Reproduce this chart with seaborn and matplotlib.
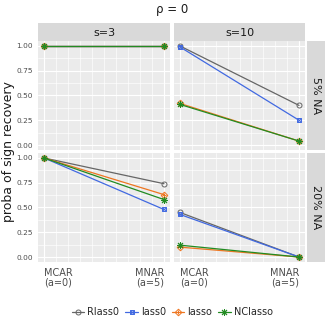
import matplotlib
matplotlib.use("Agg")
import matplotlib.pyplot as plt
from matplotlib.lines import Line2D
import numpy as np
import pandas as pd
import seaborn as sns

# data
methods = ["Rlass0", "lass0", "lasso", "NClasso"]
a_values = [0, 5]
s_levels = ["s=3", "s=10"]
na_levels = ["5% NA", "20% NA"]

# values at (a=0, a=5) per method, per panel
s3_na5 = {"Rlass0": [1.0, 1.0], "lass0": [1.0, 1.0], "lasso": [1.0, 1.0], "NClasso": [1.0, 1.0]}
s10_na5 = {"Rlass0": [1.0, 0.40], "lass0": [0.99, 0.25], "lasso": [0.42, 0.04], "NClasso": [0.41, 0.04]}
s3_na20 = {"Rlass0": [1.0, 0.74], "lass0": [1.0, 0.48], "lasso": [1.0, 0.63], "NClasso": [1.0, 0.58]}
s10_na20 = {"Rlass0": [0.45, 0.0], "lass0": [0.43, 0.0], "lasso": [0.10, 0.0], "NClasso": [0.12, 0.0]}

panels = {
    ("5% NA", "s=3"): s3_na5,
    ("5% NA", "s=10"): s10_na5,
    ("20% NA", "s=3"): s3_na20,
    ("20% NA", "s=10"): s10_na20,
}

rows = []
for (na, s), vals in panels.items():
    for m in methods:
        for a, v in zip(a_values, vals[m]):
            rows.append({"na": na, "s": s, "method": m, "a": a, "prob": v})
df = pd.DataFrame(rows)

colors = {"Rlass0": "#666666", "lass0": "#4169E1", "lasso": "#EE7621", "NClasso": "#228B22"}
# outer marker, inner overlay marker
shapes = {"Rlass0": ("o", None), "lass0": ("s", "x"), "lasso": ("D", "+"), "NClasso": ((8, 2, 0), None)}
sizes = {"Rlass0": 3.6, "lass0": 3.4, "lasso": 3.4, "NClasso": 5.0}

sns.set_theme(style="darkgrid")
plt.rcParams["font.family"] = ["DejaVu Sans"]

W, H = 328, 325
fig = plt.figure(figsize=(W / 100, H / 100), dpi=100)

col_x = {"s=3": (38, 132), "s=10": (174, 131)}
row_y = {"5% NA": 41, "20% NA": 153}
panel_h = 109

for (na, s), _ in panels.items():
    x0, w = col_x[s]
    y0 = row_y[na]
    ax = fig.add_axes([x0 / W, 1 - (y0 + panel_h) / H, w / W, panel_h / H])
    ax.set_facecolor("#EBEBEB")
    sub = df[(df["na"] == na) & (df["s"] == s)]
    for m in methods:
        d = sub[sub["method"] == m]
        outer, inner = shapes[m]
        sns.lineplot(data=d, x="a", y="prob", ax=ax, color=colors[m], lw=0.9,
                     marker=outer, ms=sizes[m], mfc="none", mec=colors[m], mew=0.7,
                     legend=False, zorder=3)
        if inner is not None:
            sns.lineplot(data=d, x="a", y="prob", ax=ax, color=colors[m], lw=0,
                         marker=inner, ms=sizes[m] * 0.9, mec=colors[m], mew=0.7,
                         legend=False, zorder=3)
    ax.set_xlim(-0.25, 5.25)
    ax.set_ylim(-0.05, 1.05)
    ax.set_xticks([0, 5])
    ax.set_xticks(np.arange(0.5, 5, 0.5), minor=True)
    ax.set_yticks([0, 0.25, 0.5, 0.75, 1.0])
    ax.set_yticks([0.125, 0.375, 0.625, 0.875], minor=True)
    ax.grid(True, which="major", color="white", lw=0.8)
    ax.grid(True, which="minor", color="white", lw=0.45)
    ax.set_xlabel("")
    ax.set_ylabel("")
    for sp in ax.spines.values():
        sp.set_visible(False)
    ax.tick_params(which="minor", length=0)
    ax.tick_params(which="major", length=2, width=0.6, color="#333333", pad=1.5)
    if s == "s=3":
        ax.set_yticklabels(["0.00", "0.25", "0.50", "0.75", "1.00"], fontsize=5.3, color="#4D4D4D")
    else:
        ax.tick_params(axis="y", length=0)
        ax.set_yticklabels([])
    if na == "20% NA":
        labs = ax.set_xticklabels(["MCAR\n(a=0)", "MNAR\n(a=5)"], fontsize=7, color="#4D4D4D",
                                  linespacing=1.0)
        labs[0].set_ha("left")
        labs[0].set_multialignment("left")
        labs[1].set_ha("right")
        labs[1].set_multialignment("right")
        ax.tick_params(axis="x", pad=2)
    else:
        ax.tick_params(axis="x", length=0)
        ax.set_xticklabels([])

# strips on top
for s, (x0, w) in col_x.items():
    sax = fig.add_axes([x0 / W, 1 - 41 / H, w / W, 18 / H])
    sax.set_facecolor("#D9D9D9")
    sax.set_xticks([])
    sax.set_yticks([])
    for sp in sax.spines.values():
        sp.set_visible(False)
    sax.text(0.5, 0.45, s, ha="center", va="center", fontsize=8, color="#1A1A1A",
             transform=sax.transAxes)

# strips on the right
for na, y0 in row_y.items():
    sax = fig.add_axes([307 / W, 1 - (y0 + panel_h) / H, 18 / W, panel_h / H])
    sax.set_facecolor("#D9D9D9")
    sax.set_xticks([])
    sax.set_yticks([])
    for sp in sax.spines.values():
        sp.set_visible(False)
    sax.text(0.5, 0.5, na, ha="center", va="center", fontsize=8, color="#1A1A1A",
             rotation=-90, transform=sax.transAxes)

fig.text(0.525, 1 - 10 / H, "ρ = 0", ha="center", va="center", fontsize=8.5, color="#1A1A1A")
fig.text(9 / W, 1 - 152 / H, "proba of sign recovery", ha="center", va="center",
         rotation=90, fontsize=9, color="#1A1A1A")

handles = []
for m in methods:
    outer, inner = shapes[m]
    h1 = Line2D([], [], color=colors[m], lw=0.9, marker=outer, ms=sizes[m], mfc="none",
                mec=colors[m], mew=0.7)
    if inner is not None:
        h2 = Line2D([], [], color=colors[m], lw=0, marker=inner, ms=sizes[m] * 0.9,
                    mec=colors[m], mew=0.7)
        handles.append((h1, h2))
    else:
        handles.append(h1)

fig.legend(handles, methods, loc="center", bbox_to_anchor=(0.525, 1 - 312 / H), ncol=4,
           frameon=False, fontsize=7, handlelength=1.3, handletextpad=0.3, columnspacing=0.6,
           borderpad=0.1)

fig.savefig("out.png", dpi=100)
plt.close(fig)
